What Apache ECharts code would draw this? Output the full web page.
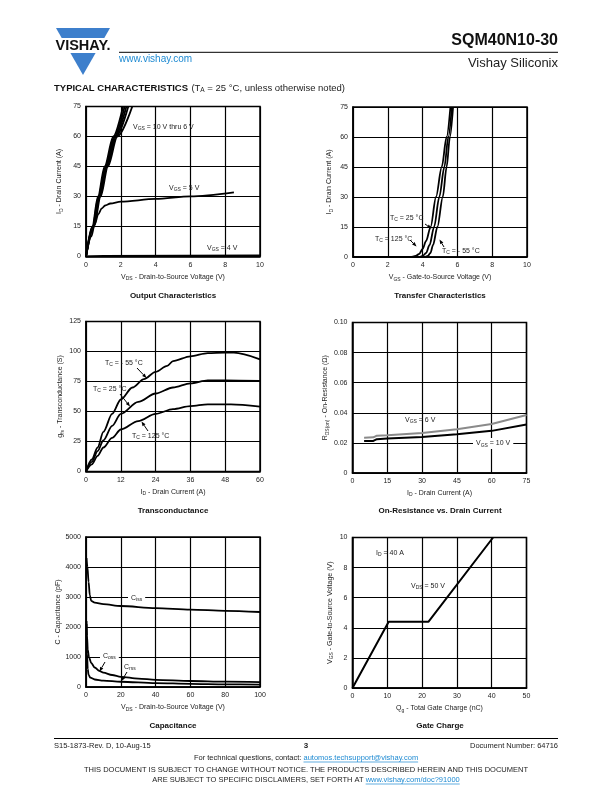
<!DOCTYPE html>
<html><head><meta charset="utf-8">
<script src="https://cdn.jsdelivr.net/npm/echarts@6/dist/echarts.min.js"></script>
<style>html,body{margin:0;padding:0;background:#fff}#c{width:612px;height:792px}</style>
</head><body><div id="c"></div>
<script>
// ---------- DATA ----------
// Output characteristics: [VDS (V), ID (A)]
const out10V = [[0,0],[0.36,15],[0.69,30],[1.07,45],[1.57,60],[2.13,75]];
const out9V  = [[0,0],[0.38,15],[0.72,30],[1.12,45],[1.63,60],[2.22,75]];
const out8V  = [[0,0],[0.40,15],[0.76,30],[1.17,45],[1.68,60],[2.32,75]];
const out7V  = [[0,0],[0.43,15],[0.80,30],[1.21,45],[1.74,60],[2.43,75]];
const out6V  = [[0,0],[0.46,15],[0.84,30],[1.26,45],[1.80,60],[2.66,75]];
const out5V  = [[0,0],[0.3,10],[0.5,16],[0.7,21],[0.9,24],[1.1,25.5],[1.4,26.5],[2,27.4],[4,28.8],[6,30.1],[8.5,32.1]];
const out4V  = [[0,0],[1,0.3],[10,0.5]];
// Transfer characteristics: [VGS (V), ID (A)]
const tr125 = [[0,0],[3.3,0],[3.6,0.5],[3.8,1.5],[4.0,4],[4.2,8],[4.46,15],[4.77,30],[5.1,45],[5.38,60],[5.6,75]];
const tr25  = [[0,0],[3.8,0],[4.0,0.5],[4.2,2],[4.4,6],[4.66,15],[4.96,30],[5.25,45],[5.48,60],[5.68,75]];
const trM55 = [[0,0],[4.1,0],[4.3,0.5],[4.45,2],[4.6,6],[4.85,15],[5.16,30],[5.38,45],[5.57,60],[5.75,75]];
// Transconductance: [ID (A), gfs (S)]
const gfsM55 = [[0,0],[2,10],[4,20],[6,33],[9,48],[12,60],[16,70],[20,77],[24,83],[28,88],[30,92],[36,96],[42,98.6],[48,99],[51,99],[60,93.5]];
const gfs25  = [[0,0],[2,8],[4,17],[6,26],[9,38],[12,48],[18,58],[24,65],[30,70],[36,73.5],[42,76],[48,76],[60,75.5]];
const gfs125 = [[0,0],[2,6],[4,13],[6,20],[9,28],[12,35],[18,42],[24,48],[30,52],[36,54.5],[42,56],[50,56],[60,54]];
// On-resistance: [ID (A), RDS(on) (Ohm)]
const ron6V  = [[5,0.0235],[9,0.0237],[10.5,0.0248],[15,0.0251],[30,0.0265],[45,0.029],[60,0.0325],[75,0.0385]];
const ron10V = [[5,0.0212],[9,0.0213],[10.5,0.0225],[15,0.023],[30,0.024],[45,0.0257],[60,0.028],[75,0.0322]];
// Capacitance: [VDS (V), C (pF)]
const capCiss = [[0.3,4300],[0.8,4000],[1.5,3500],[2.2,3050],[3,2870],[5,2810],[10,2760],[20,2700],[40,2630],[60,2580],[80,2540],[100,2500]];
const capCoss = [[0.3,2200],[0.6,1700],[1,1250],[1.7,1000],[3,800],[5,650],[7.6,540],[10,480],[15,400],[20,340],[30,280],[40,240],[60,200],[80,180],[100,165]];
const capCrss = [[0.3,2100],[0.6,1100],[1,600],[1.5,400],[2.5,310],[5,250],[10,210],[20,175],[40,130],[60,105],[80,90],[100,80]];
// Gate charge: [Qg (nC), VGS (V)]
const gateQ = [[0,0],[10.4,4.4],[21.8,4.4],[40.4,10]];

// ---------- RENDER ----------
const F = '"Liberation Sans", Arial, Helvetica, sans-serif';
const TXT = '#222';
function rs(s){ const p=s.split('~'); let o=''; p.forEach((t,i)=>{ if(t) o+='{'+(i%2?'s':'n')+'|'+t+'}'; }); return o; }
const axRich = {n:{fontSize:7,lineHeight:9,color:TXT,fontFamily:F}, s:{fontSize:5,lineHeight:5,verticalAlign:'bottom',color:TXT,fontFamily:F}};
const gRich = {n:{fontSize:7,lineHeight:9,fill:TXT,fontFamily:F}, s:{fontSize:5,lineHeight:5,verticalAlign:'bottom',fill:TXT,fontFamily:F}};

const grids = [
  {left:86, top:106.5, width:174, height:150},
  {left:353, top:107, width:174, height:150},
  {left:86, top:321.5, width:174, height:150},
  {left:352.5, top:322.5, width:174, height:150.5},
  {left:86, top:537, width:174, height:150},
  {left:352.5, top:537.5, width:174, height:150.5}
].map(g=>Object.assign({show:true,borderColor:'#000',borderWidth:1.5,backgroundColor:'transparent',containLabel:false,outerBoundsMode:'none'},g));

function xa(i,min,max,interval,name,gap){
  return {gridIndex:i,type:'value',min,max,interval,name:rs(name),nameLocation:'middle',nameGap:gap,
    nameTextStyle:{rich:axRich},
    axisLine:{show:true,lineStyle:{color:'#000',width:1.5}},axisTick:{show:false},
    axisLabel:{fontSize:7,color:TXT,fontFamily:F,margin:5,formatter:v=>String(v)},
    splitLine:{show:true,lineStyle:{color:'#000',width:1.2}}};
}
function ya(i,min,max,interval,name,gap,fmt){
  const a = xa(i,min,max,interval,name,gap);
  a.nameRotate = 90;
  a.axisLabel.margin = 5;
  if(fmt) a.axisLabel.formatter = fmt;
  return a;
}
const xAxis = [
  xa(0,0,10,2,'V~DS~ - Drain-to-Source Voltage (V)',16),
  xa(1,0,10,2,'V~GS~ - Gate-to-Source Voltage (V)',16),
  xa(2,0,60,12,'I~D~ - Drain Current (A)',16),
  xa(3,0,75,15,'I~D~ - Drain Current (A)',15.5),
  xa(4,0,100,20,'V~DS~ - Drain-to-Source Voltage (V)',16),
  xa(5,0,50,10,'Q~g~ - Total Gate Charge (nC)',16)
];
const yAxis = [
  ya(0,0,75,15,'I~D~ - Drain Current (A)',22),
  ya(1,0,75,15,'I~D~ - Drain Current (A)',19),
  ya(2,0,125,25,'g~fs~ - Transconductance (S)',21),
  ya(3,0,0.10,0.02,'R~DS(on)~ - On-Resistance (Ω)',19,v=>v===0?'0':v.toFixed(2)),
  ya(4,0,5000,1000,'C - Capacitance (pF)',21),
  ya(5,0,10,2,'V~GS~ - Gate-to-Source Voltage (V)',18)
];

function ln(i,data,color,width,smooth){
  return {type:'line',xAxisIndex:i,yAxisIndex:i,data,showSymbol:false,symbol:'none',silent:true,
    smooth: smooth===undefined?0.3:smooth, smoothMonotone:'x',
    lineStyle:{color:color||'#000',width:width||1.8},z:3};
}
const series = [
  ln(0,out10V),ln(0,out9V),ln(0,out8V),ln(0,out7V),ln(0,out6V),ln(0,out5V),ln(0,out4V,'#000',1.8,false),
  ln(1,tr125),ln(1,tr25),ln(1,trM55),
  ln(2,gfsM55),ln(2,gfs25),ln(2,gfs125),
  ln(3,ron6V,'#8a8a8a',2,false),ln(3,ron10V,'#000',2,false),
  ln(4,capCiss),ln(4,capCoss),ln(4,capCrss),
  ln(5,gateQ,'#000',2,false)
];

// ---------- annotations ----------
const G = [];
function lbl(x,y,s,bg){
  const st={text:rs(s),rich:gRich,x:0,y:0,align:'left',verticalAlign:'middle',fontSize:7,fontFamily:F,fill:TXT};
  if(bg){ st.backgroundColor='#fff'; st.padding=[1,3]; }
  G.push({type:'text',x:x,y:y,z:50,style:st});
}
function arrow(x1,y1,x2,y2){
  const a=Math.atan2(y2-y1,x2-x1), L=4.5, W=1.8;
  const bx=x2-L*Math.cos(a), by=y2-L*Math.sin(a);
  G.push({type:'line',z:50,shape:{x1,y1,x2:bx,y2:by},style:{stroke:'#000',lineWidth:1}});
  G.push({type:'polygon',z:50,shape:{points:[[x2,y2],[bx+W*Math.sin(a),by-W*Math.cos(a)],[bx-W*Math.sin(a),by+W*Math.cos(a)]]},style:{fill:'#000'}});
}
function txt(x,y,text,size,opts){
  G.push({type:'text',x,y,z:50,style:Object.assign({text,fontSize:size,fontFamily:F,fill:TXT,align:'left',verticalAlign:'middle'},opts||{})});
}
// chart labels
lbl(133,127,'V~GS~ = 10 V thru 6 V');
lbl(169,188,'V~GS~ = 5 V');
lbl(207,248,'V~GS~ = 4 V');
lbl(390,218,'T~C~ = 25 °C'); arrow(425,224,431.5,228.5);
lbl(375,239,'T~C~ = 125 °C'); arrow(410,240,416.5,246.5);
lbl(442,251,'T~C~ = - 55 °C'); arrow(444,247,439.5,239.5);
lbl(105,363,'T~C~ = - 55 °C'); arrow(137,368,146.5,378);
lbl(93,389,'T~C~ = 25 °C'); arrow(120,394,130,406.5);
lbl(132,436,'T~C~ = 125 °C'); arrow(148,431,141.5,421.5);
lbl(405,420,'V~GS~ = 6 V');
lbl(473,443.5,'V~GS~ = 10 V',true);
lbl(128,598,'C~iss~',true);
lbl(100,656,'C~oss~',true); arrow(105,662,99.5,671.5);
lbl(124,667,'C~rss~'); arrow(127,672,121.5,681);
lbl(376,553,'I~D~ = 40 A');
lbl(411,586,'V~DS~ = 50 V');
// chart titles
[[173,295.5,'Output Characteristics'],[440,295.5,'Transfer Characteristics'],[173,510.5,'Transconductance'],
 [440,511,'On-Resistance vs. Drain Current'],[173,726,'Capacitance'],[440,726,'Gate Charge']].forEach(t=>
  txt(t[0],t[1],t[2],8,{align:'center',fontWeight:'bold',fill:'#111'}));

// header
const BLUE='#3d7fcc', LINK='#1e8ad2';
G.push({type:'polygon',shape:{points:[[56,28],[110,28],[104.3,38],[61.7,38]]},style:{fill:BLUE}});
G.push({type:'polygon',shape:{points:[[70.4,53],[95.6,53],[83,75]]},style:{fill:BLUE}});
txt(83,45.5,'VISHAY.',14.5,{align:'center',fontWeight:'bold',fill:'#111'});
G.push({type:'line',shape:{x1:119,y1:52.3,x2:558,y2:52.3},style:{stroke:'#000',lineWidth:1}});
txt(119,59.5,'www.vishay.com',10,{fill:LINK});
txt(558,40.5,'SQM40N10-30',16,{align:'right',fontWeight:'bold',fill:'#111'});
txt(558,63,'Vishay Siliconix',13,{align:'right'});
G.push({type:'text',x:54,y:88,style:{text:'{b|TYPICAL CHARACTERISTICS} {n|(T}{s|A}{n| = 25 °C, unless otherwise noted)}',
  verticalAlign:'middle',align:'left',
  rich:{b:{fontSize:9.5,fontWeight:'bold',fill:'#111',fontFamily:F,lineHeight:11},
        n:{fontSize:9.5,fill:TXT,fontFamily:F,lineHeight:11},
        s:{fontSize:6.5,fill:TXT,fontFamily:F,lineHeight:6,verticalAlign:'bottom'}}}});

// footer
G.push({type:'line',shape:{x1:54,y1:738.5,x2:558,y2:738.5},style:{stroke:'#000',lineWidth:1}});
const FS=7.5;
txt(54,745.5,'S15-1873-Rev. D, 10-Aug-15',FS);
txt(306,746,'3',FS+0.5,{align:'center',fontWeight:'bold'});
txt(558,745.5,'Document Number: 64716',FS,{align:'right'});
const mctx=document.createElement('canvas').getContext('2d');
mctx.font=FS+'px "Liberation Sans"';
function linkLine(y,pre,link){
  const wp=mctx.measureText(pre).width, wl=mctx.measureText(link).width, W=wp+wl, x0=306-W/2;
  G.push({type:'text',x:x0,y,style:{text:'{n|'+pre+'}{l|'+link+'}',align:'left',verticalAlign:'middle',
    rich:{n:{fontSize:FS,fill:TXT,fontFamily:F},l:{fontSize:FS,fill:LINK,fontFamily:F}}}});
  G.push({type:'line',shape:{x1:x0+wp,y1:y+4.5,x2:x0+W,y2:y+4.5},style:{stroke:LINK,lineWidth:0.7}});
}
linkLine(757.5,'For technical questions, contact: ','automos.techsupport@vishay.com');
txt(306,769.5,'THIS DOCUMENT IS SUBJECT TO CHANGE WITHOUT NOTICE. THE PRODUCTS DESCRIBED HEREIN AND THIS DOCUMENT',FS,{align:'center'});
linkLine(779.5,'ARE SUBJECT TO SPECIFIC DISCLAIMERS, SET FORTH AT ','www.vishay.com/doc?91000');

const chart = echarts.init(document.getElementById('c'),null,{renderer:'canvas',width:612,height:792});
chart.setOption({animation:false,backgroundColor:'#fff',grid:grids,xAxis,yAxis,series,graphic:{elements:G}});
</script></body></html>
